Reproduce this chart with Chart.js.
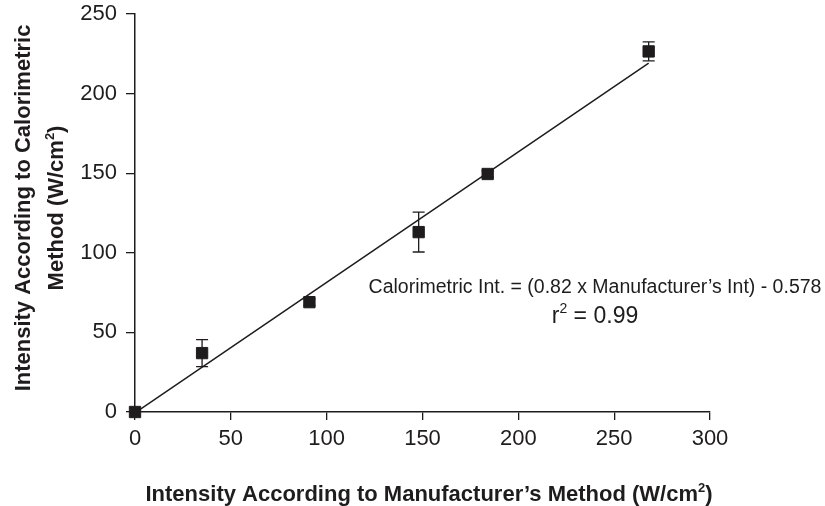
<!DOCTYPE html>
<html>
<head>
<meta charset="utf-8">
<script src="https://cdn.jsdelivr.net/npm/chart.js@4/dist/chart.umd.min.js"></script>
<style>
  html, body { margin: 0; padding: 0; background: #fff; }
  #wrap { width: 825px; height: 506px; }
</style>
</head>
<body>
<div id="wrap"><canvas id="chart" width="825" height="506"></canvas></div>
<script>
// Measured points (manufacturer vs calorimetric)
const manufacturer = [0, 35, 91, 148, 184, 268];
const calorimetric = [0, 37, 69, 113, 149.5, 226.5];
const errors = [0, 8.5, 2, 12.5, 2, 6];

// Regression line end points
const fitX = [0, 268];
const fitY = [-0.6, 219.2];

const xTicks = [0, 50, 100, 150, 200, 250, 300];
const yTicks = [0, 50, 100, 150, 200, 250];

const ink = '#1f1c1d';
const font = '"Liberation Sans", Arial, sans-serif';

// Error bars behind the squares
const errorBars = {
    id: 'errorBars',
    beforeDatasetsDraw(chart) {
        const { ctx, scales: { x, y } } = chart;
        ctx.save();
        ctx.strokeStyle = ink;
        ctx.lineWidth = 1.3;
        manufacturer.forEach((m, i) => {
            if (!errors[i]) return;
            const px = x.getPixelForValue(m);
            const top = y.getPixelForValue(calorimetric[i] + errors[i]);
            const bot = y.getPixelForValue(calorimetric[i] - errors[i]);
            ctx.beginPath();
            ctx.moveTo(px, top); ctx.lineTo(px, bot);
            ctx.moveTo(px - 6, top); ctx.lineTo(px + 6, top);
            ctx.moveTo(px - 6, bot); ctx.lineTo(px + 6, bot);
            ctx.stroke();
        });
        ctx.restore();
    }
};

// Draws text with a superscript part, centred on x
function drawParts(ctx, parts, x, y, size, bold) {
    const w = bold ? 'bold ' : '';
    const supSize = Math.round(size * 0.6);
    let total = 0;
    parts.forEach(p => {
        ctx.font = w + (p.sup ? supSize : size) + 'px ' + font;
        total += ctx.measureText(p.t).width;
    });
    let cx = x - total / 2;
    parts.forEach(p => {
        ctx.font = w + (p.sup ? supSize : size) + 'px ' + font;
        ctx.fillText(p.t, cx, p.sup ? y - size * 0.42 : y);
        cx += ctx.measureText(p.t).width;
    });
}

const labels = {
    id: 'labels',
    afterDraw(chart) {
        const { ctx, scales: { x, y } } = chart;
        ctx.save();
        ctx.fillStyle = ink;
        ctx.textBaseline = 'alphabetic';
        ctx.textAlign = 'left';

        // x axis title
        drawParts(ctx, [
            { t: 'Intensity According to Manufacturer\u2019s Method (W/cm' },
            { t: '2', sup: true },
            { t: ')' }
        ], 429, 501, 22, true);

        // y axis title, two lines
        ctx.save();
        ctx.translate(0, 208);
        ctx.rotate(-Math.PI / 2);
        drawParts(ctx, [{ t: 'Intensity According to Calorimetric' }], 0, 30, 22, true);
        drawParts(ctx, [
            { t: 'Method (W/cm' },
            { t: '2', sup: true },
            { t: ')' }
        ], 0, 63, 22, true);
        ctx.restore();

        // regression equation
        const ax = x.getPixelForValue(240);
        drawParts(ctx, [{ t: 'Calorimetric Int. = (0.82 x Manufacturer\u2019s Int) - 0.578' }],
            ax, y.getPixelForValue(75), 19.5, false);
        drawParts(ctx, [
            { t: 'r' },
            { t: '2', sup: true },
            { t: ' = 0.99' }
        ], ax, y.getPixelForValue(56), 23, false);
        ctx.restore();
    }
};

new Chart(document.getElementById('chart'), {
    type: 'scatter',
    data: {
        datasets: [
            {
                label: 'Fit',
                type: 'line',
                data: fitX.map((v, i) => ({ x: v, y: fitY[i] })),
                borderColor: ink,
                borderWidth: 1.5,
                pointRadius: 0,
                fill: false,
                clip: false,
                order: 2
            },
            {
                label: 'Measured',
                data: manufacturer.map((v, i) => ({ x: v, y: calorimetric[i] })),
                pointStyle: 'rect',
                pointRadius: 8,
                pointBackgroundColor: ink,
                pointBorderColor: ink,
                pointBorderWidth: 1,
                clip: false,
                order: 1
            }
        ]
    },
    options: {
        responsive: false,
        animation: false,
        layout: { padding: { top: 14, right: 115, left: 0, bottom: 0 } },
        plugins: {
            legend: { display: false },
            tooltip: { enabled: false }
        },
        scales: {
            x: {
                type: 'linear',
                min: 0,
                max: 300,
                afterBuildTicks: s => { s.ticks = xTicks.map(v => ({ value: v })); },
                afterFit: s => { s.height = 94; s.paddingLeft = 0; s.paddingRight = 0; },
                grid: { drawOnChartArea: false, drawTicks: true, tickLength: 8, color: ink, lineWidth: 1.3 },
                border: { display: true, color: ink, width: 1.5 },
                ticks: { color: ink, padding: 6, font: { family: font, size: 22 } }
            },
            y: {
                type: 'linear',
                min: 0,
                max: 250,
                afterBuildTicks: s => { s.ticks = yTicks.map(v => ({ value: v })); },
                afterFit: s => { s.width = 135; s.paddingTop = 0; s.paddingBottom = 0; },
                grid: { drawOnChartArea: false, drawTicks: true, tickLength: 9, color: ink, lineWidth: 1.3 },
                border: { display: true, color: ink, width: 1.5 },
                ticks: { color: ink, padding: 9, font: { family: font, size: 22 } }
            }
        }
    },
    plugins: [errorBars, labels]
});
</script>
</body>
</html>
